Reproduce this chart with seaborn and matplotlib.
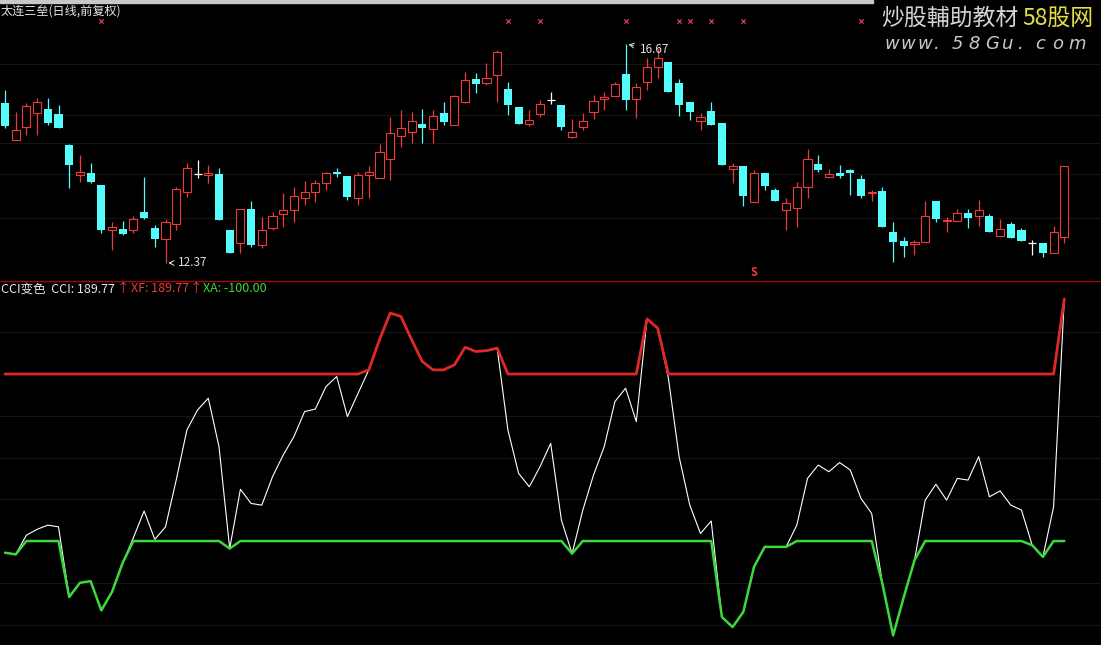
import numpy as np
import pandas as pd
import matplotlib
matplotlib.use('Agg')
import matplotlib.pyplot as plt
from matplotlib.patches import Rectangle
import seaborn as sns

# 일봉 데이터 (前复权)
opens = [15.51, 14.79, 15.04, 15.32, 15.39, 15.30, 14.69, 14.10, 14.14, 13.90,
         13.02, 13.04, 13.02, 13.37, 13.06, 12.84, 13.14, 13.76, 14.12, 14.10,
         14.12, 13.02, 12.76, 13.43, 12.72, 13.06, 13.33, 13.41, 13.65, 13.76,
         13.94, 14.16, 14.08, 13.65, 14.10, 14.04, 14.41, 14.86, 14.94, 15.10,
         15.00, 15.32, 15.08, 15.53, 15.98, 15.90, 16.06, 15.79, 15.43, 15.10,
         15.30, 15.57, 15.47, 14.84, 15.04, 15.33, 15.59, 15.65, 16.08, 15.59,
         15.92, 16.22, 16.32, 15.90, 15.53, 15.16, 15.35, 15.12, 14.22, 14.27,
         13.57, 14.14, 13.80, 13.41, 13.45, 13.86, 14.31, 14.06, 14.14, 14.20,
         14.02, 13.74, 13.78, 12.98, 12.80, 12.74, 12.78, 13.59, 13.20, 13.20,
         13.35, 13.29, 13.29, 12.90, 13.14, 13.02, 12.76, 12.76, 12.57, 12.88]
highs = [15.77, 15.33, 15.51, 15.61, 15.61, 15.47, 14.71, 14.49, 14.33, 13.90,
         13.18, 13.20, 13.29, 14.06, 13.12, 13.23, 13.86, 14.33, 14.39, 14.29,
         14.23, 13.02, 13.43, 13.59, 13.27, 13.37, 13.74, 13.86, 13.98, 14.00,
         14.16, 14.23, 14.08, 14.16, 14.27, 14.71, 15.24, 15.37, 15.33, 15.39,
         15.37, 15.53, 15.67, 16.12, 16.10, 16.30, 16.55, 15.92, 15.43, 15.37,
         15.57, 15.73, 15.47, 15.20, 15.32, 15.67, 15.73, 15.92, 16.67, 15.90,
         16.40, 16.59, 16.32, 15.98, 15.53, 15.32, 15.53, 15.12, 14.33, 14.27,
         14.20, 14.14, 13.84, 13.65, 13.96, 14.61, 14.49, 14.22, 14.29, 14.22,
         14.10, 13.80, 13.86, 13.18, 12.88, 12.82, 13.59, 13.59, 13.27, 13.43,
         13.43, 13.61, 13.33, 13.23, 13.18, 13.06, 12.82, 12.76, 13.10, 14.27]
lows = [15.02, 14.79, 14.88, 14.88, 15.08, 15.02, 13.84, 13.96, 13.94, 12.96,
        12.63, 12.92, 12.96, 13.23, 12.68, 12.37, 13.02, 13.67, 14.04, 13.94,
        13.21, 12.57, 12.57, 12.68, 12.66, 13.02, 13.08, 13.18, 13.51, 13.57,
        13.80, 14.06, 13.61, 13.51, 13.65, 14.04, 14.00, 14.65, 14.73, 14.73,
        14.73, 15.08, 15.08, 15.51, 15.71, 15.87, 15.53, 15.28, 15.10, 15.06,
        15.24, 15.49, 14.98, 14.82, 14.98, 15.20, 15.37, 15.65, 15.37, 15.22,
        15.77, 16.00, 15.73, 15.26, 15.18, 14.98, 15.08, 14.29, 13.94, 13.49,
        13.57, 13.80, 13.59, 13.02, 13.08, 13.65, 14.16, 14.06, 14.04, 13.71,
        13.65, 13.59, 13.08, 12.39, 12.49, 12.53, 12.78, 13.18, 12.98, 13.20,
        13.06, 13.10, 12.98, 12.90, 12.86, 12.80, 12.53, 12.49, 12.57, 12.76]
closes = [15.06, 14.98, 15.45, 15.53, 15.12, 15.02, 14.29, 14.16, 13.96, 13.02,
          13.08, 12.94, 13.23, 13.25, 12.84, 13.18, 13.82, 14.23, 14.12, 14.14,
          13.21, 12.57, 13.43, 12.72, 13.02, 13.29, 13.41, 13.69, 13.76, 13.94,
          14.14, 14.12, 13.67, 14.10, 14.16, 14.55, 14.92, 15.02, 15.16, 15.02,
          15.26, 15.14, 15.65, 15.96, 15.88, 16.00, 16.51, 15.47, 15.10, 15.18,
          15.49, 15.57, 15.04, 14.94, 15.16, 15.55, 15.63, 15.88, 15.57, 15.83,
          16.22, 16.40, 15.73, 15.47, 15.33, 15.24, 15.08, 14.29, 14.27, 13.69,
          14.14, 13.88, 13.59, 13.55, 13.86, 14.41, 14.20, 14.12, 14.08, 14.14,
          13.69, 13.76, 13.08, 12.78, 12.70, 12.78, 13.29, 13.23, 13.21, 13.35,
          13.25, 13.41, 12.98, 13.04, 12.86, 12.80, 12.76, 12.57, 12.98, 14.27]

# CCI 지표값
cci = [-114, -116, -93, -86, -81, -83, -167, -150, -148, -183,
       -161, -126, -96, -64, -98, -83, -27, 33, 57, 71,
       13, -109, -38, -55, -57, -23, 3, 25, 55, 58,
       85, 97, 49, 77, 105, 141, 173, 169, 141, 115,
       105, 105, 111, 132, 127, 128, 131, 33, -19, -35,
       -11, 17, -75, -115, -63, -21, 13, 67, 83, 43,
       166, 155, 95, 1, -57, -91, -76, -191, -203, -185,
       -131, -107, -107, -107, -81, -25, -9, -17, -6, -15,
       -49, -67, -151, -213, -167, -123, -51, -32, -51, -25,
       -27, 1, -47, -40, -57, -63, -105, -119, -59, 189.77]

# 신호 표시 날짜
signal_days = [9, 47, 50, 58, 63, 64, 66, 69, 80]
sell_day = 70
price_grid = [16.28, 15.28, 14.73, 14.12, 13.25]
cci_grid = [150, 50, 0, -50, -150, -200]
title = '太连三垒(日线,前复权)'

# 색상 설정
MY_W, MY_H = 1101, 645
MY_RED = '#EE3A3A'
MY_CYAN = '#54FCFC'
MY_GREEN = '#3CD83C'
MY_PINK = '#E0407A'
MY_GRID = '#151515'

sns.set_theme(style='dark', rc={'axes.facecolor': 'black', 'figure.facecolor': 'black'})
plt.rcParams['font.family'] = ['Noto Sans CJK SC', 'DejaVu Sans']

fig = plt.figure(figsize=(MY_W / 100, MY_H / 100), dpi=100)
x0 = -5 / 10.7
x1 = (MY_W - 5) / 10.7
ax1 = fig.add_axes([0, 1 - 280 / MY_H, 1, 280 / MY_H])
ax2 = fig.add_axes([0, 0, 1, 363 / MY_H])
for ax in (ax1, ax2):
    ax.set_facecolor('black')
    ax.set_xlim(x0, x1)
    ax.set_xticks([])
    ax.set_yticks([])
    for s in ax.spines.values():
        s.set_visible(False)
ax1.set_ylim(12.036, 17.534)
ax2.set_ylim(-224.5, 210.2)

# 캔들 차트
df = pd.DataFrame({'open': opens, 'high': highs, 'low': lows, 'close': closes})
df['idx'] = np.arange(len(df))
up = df[df['close'] > df['open']]
dn = df[df['close'] < df['open']]
eq = df[df['close'] == df['open']]
body_w = 0.76

for y in price_grid:
    ax1.axhline(y, color=MY_GRID, lw=0.8, zorder=0)

ax1.vlines(dn['idx'], dn['low'], dn['high'], color=MY_CYAN, lw=0.9)
ax1.bar(dn['idx'], dn['open'] - dn['close'], bottom=dn['close'], width=body_w,
        color=MY_CYAN, lw=0)
ax1.vlines(up['idx'], up['low'], up['open'], color=MY_RED, lw=0.9)
ax1.vlines(up['idx'], up['close'], up['high'], color=MY_RED, lw=0.9)
ax1.bar(up['idx'], up['close'] - up['open'], bottom=up['open'], width=body_w,
        facecolor='black', edgecolor=MY_RED, lw=0.8)
ax1.vlines(eq['idx'], eq['low'], eq['high'], color='white', lw=0.9)
ax1.hlines(eq['open'], eq['idx'] - body_w / 2, eq['idx'] + body_w / 2, color='white', lw=0.9)

# 신호 표시
ax1.scatter(signal_days, [0.925] * len(signal_days), marker='x', s=10, lw=0.8,
            color=MY_PINK, transform=ax1.get_xaxis_transform())
ax1.text(sell_day, 0.025, 'S', color=MY_RED, fontsize=8, fontweight='bold',
         ha='center', va='center', transform=ax1.get_xaxis_transform())

# 최고가 / 최저가
hi = int(np.argmax(highs))
lo = int(np.argmin(lows))
ax1.annotate(f'{highs[hi]:.2f}', xy=(hi, highs[hi]), xytext=(10, -4),
             textcoords='offset points', color='#E0E0E0', fontsize=8.5,
             va='center', ha='left',
             arrowprops=dict(arrowstyle='->', color='#E0E0E0', lw=0.7))
ax1.annotate(f'{lows[lo]:.2f}', xy=(lo, lows[lo]), xytext=(9, 0),
             textcoords='offset points', color='#E0E0E0', fontsize=8.5,
             va='center', ha='left',
             arrowprops=dict(arrowstyle='->', color='#E0E0E0', lw=0.7))

fig.text(1 / MY_W, 1 - 11 / MY_H, title, color='#E6E6E6', fontsize=8.7, va='center')

# CCI 변색
xs = np.arange(len(cci))
cci_arr = np.array(cci, dtype=float)
xf = np.maximum(cci_arr, 100)
xa = np.minimum(cci_arr, -100)
for y in cci_grid:
    ax2.axhline(y, color=MY_GRID, lw=0.8, zorder=0)
sns.lineplot(x=xs, y=cci_arr, color='white', lw=0.8, ax=ax2)
sns.lineplot(x=xs, y=xf, color='#E02828', lw=2.0, ax=ax2)
sns.lineplot(x=xs, y=xa, color=MY_GREEN, lw=1.8, ax=ax2)
ax2.set_xlabel('')
ax2.set_ylabel('')

# 구분선 / 상단 바
fig.add_artist(plt.Line2D([0, 1], [1 - 280.5 / MY_H] * 2, color='#9A0A0A', lw=1))
fig.patches.append(Rectangle((0, 1 - 2.5 / MY_H), 873 / MY_W, 2.5 / MY_H,
                             transform=fig.transFigure, color='#C8C8C8'))

# 지표 라벨
ly = 1 - 289 / MY_H
fig.text(1 / MY_W, ly, f'CCI变色  CCI: {cci[-1]:.2f}', color='#E6E6E6', fontsize=9, va='center')
fig.text(117 / MY_W, ly, '↑', color=MY_RED, fontsize=9, va='center')
fig.text(131 / MY_W, ly, f'XF: {xf[-1]:.2f}', color=MY_RED, fontsize=9, va='center')
fig.text(190 / MY_W, ly, '↑', color=MY_RED, fontsize=9, va='center')
fig.text(203 / MY_W, ly, f'XA: {xa[-1]:.2f}', color=MY_GREEN, fontsize=9, va='center')

# 워터마크
fig.text(881 / MY_W, 1 - 18 / MY_H, '炒股輔助教材', color='#D4D4D4', fontsize=16.5, va='center')
fig.text(1022 / MY_W, 1 - 18 / MY_H, '58股网', color='#E6E040', fontsize=16.5, va='center')
site = 'www.58Gu.com'
for k, ch in enumerate(site):
    fig.text((884 + k * 16.8) / MY_W, 1 - 44 / MY_H, ch, color='#C8C8C8', fontsize=13,
             style='italic', family='DejaVu Sans', va='center')

fig.savefig('out.png', dpi=100, facecolor='black')
